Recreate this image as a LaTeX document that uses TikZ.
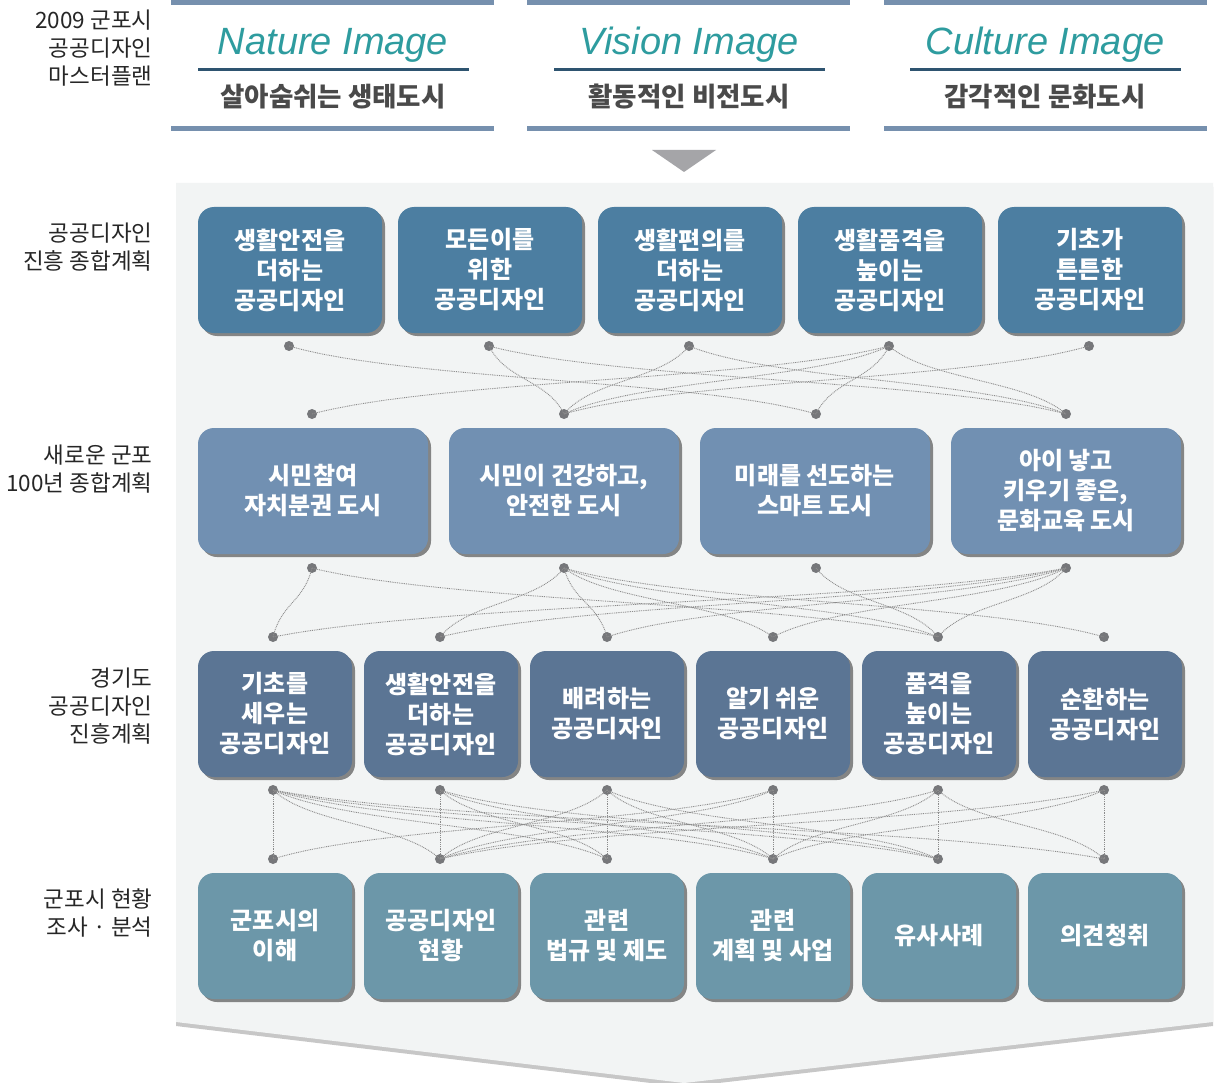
\documentclass[tikz,border=0pt]{standalone}
\usepackage{fontspec}
\setmainfont{Noto Sans CJK KR}
\newfontfamily\latinit{Liberation Sans}
\usetikzlibrary{shadows,calc}
\definecolor{barblue}{HTML}{7690AE}
\definecolor{linedark}{HTML}{2E5470}
\definecolor{teal}{HTML}{2E9C9F}
\definecolor{subgray}{HTML}{4A4A4A}
\definecolor{panel}{HTML}{F2F4F4}
\definecolor{rowa}{HTML}{4C7EA1}
\definecolor{rowb}{HTML}{7190B2}
\definecolor{rowc}{HTML}{5B7594}
\definecolor{rowd}{HTML}{6C97A9}
\definecolor{dotgray}{HTML}{76777A}
\definecolor{conngray}{HTML}{8C8C8C}
\definecolor{tri}{HTML}{A5A5A8}
\tikzset{
  bx/.style={rounded corners=16pt, minimum height=126pt, align=center, text=white,
    font=\fontsize{24}{30}\selectfont\bfseries, inner sep=0pt,
    drop shadow={shadow xshift=3pt, shadow yshift=-3pt, fill=black, opacity=0.45}},
  boxa/.style={bx, fill=rowa, minimum width=184pt},
  boxb/.style={bx, fill=rowb, minimum width=230pt},
  boxc/.style={bx, fill=rowc, minimum width=154pt},
  boxd/.style={bx, fill=rowd, minimum width=154pt},
  dot/.style={circle, fill=dotgray, minimum size=10pt, inner sep=0pt},
  conn/.style={draw=conngray, line width=0.9pt, dash pattern=on 0.9pt off 0.9pt},
  lbl/.style={anchor=east, align=right, text=black!85, font=\fontsize{22.5}{28}\selectfont},
  title/.style={text=teal, font=\latinit\fontsize{38}{40}\selectfont\itshape},
  sub/.style={text=subgray, font=\fontsize{26.5}{28}\selectfont\bfseries},
}
\newcommand\conn[2]{\draw[conn] let \p1=(#1.center), \p2=(#2.center) in
  (\p1) .. controls ({0.78*\x1+0.22*\x2},{0.5*\y1+0.5*\y2}) and ({0.22*\x1+0.78*\x2},{0.5*\y1+0.5*\y2}) .. (\p2);}
\newcommand\vconn[2]{\draw[conn] (#1.center) -- (#2.center);}
\begin{document}
\begin{tikzpicture}[x=1pt,y=-1pt]
\useasboundingbox (0,0) rectangle (1215,1083);
\fill[white] (0,0) rectangle (1215,1083);
% header
\foreach \xa/\xb/\la/\lb/\cx/\t/\s/\n in {171/494/198/469/333/Nature Image/살아숨쉬는 생태도시/a, 527/850/554/825/689/Vision Image/활동적인 비전도시/b, 884/1207/910/1181/1045/Culture Image/감각적인 문화도시/c}{
  \fill[barblue] (\xa,0) rectangle (\xb,5);
  \fill[barblue] (\xa,126) rectangle (\xb,131);
  \fill[linedark] (\la,68) rectangle (\lb,71);
  \node[title] (title\n) at (\cx,45) {\t};
  \node[sub] (sub\n) at (\cx,97) {\s};
}
\fill[tri] (652,150) -- (716,150) -- (684,172) -- cycle;
% panel
\fill[panel, drop shadow={shadow xshift=0pt, shadow yshift=-4pt, fill=black, opacity=0.22}]
  (176,183) -- (1213,183) -- (1213,1022) -- (684,1083) -- (176,1022) -- cycle;
% left labels
\node[lbl] (l0) at (156,48) {2009 군포시\\공공디자인\\마스터플랜};
\node[lbl] (l1) at (156,247) {공공디자인\\진흥 종합계획};
\node[lbl] (l2) at (156,469) {새로운 군포\\100년 종합계획};
\node[lbl] (l3) at (156,706) {경기도\\공공디자인\\진흥계획};
\node[lbl] (l4) at (156,913) {군포시 현황\\조사 · 분석};
% row 1
\node[boxa] (a1) at (290,270) {생활안전을\\더하는\\공공디자인};
\node[boxa] (a2) at (490,270) {모든이를\\위한\\공공디자인};
\node[boxa] (a3) at (690,270) {생활편의를\\더하는\\공공디자인};
\node[boxa] (a4) at (890,270) {생활품격을\\높이는\\공공디자인};
\node[boxa] (a5) at (1090,270) {기초가\\튼튼한\\공공디자인};
% row 2
\node[boxb] (b1) at (313,491) {시민참여\\자치분권 도시};
\node[boxb] (b2) at (564,491) {시민이 건강하고,\\안전한 도시};
\node[boxb] (b3) at (815,491) {미래를 선도하는\\스마트 도시};
\node[boxb] (b4) at (1066,491) {아이 낳고\\키우기 좋은,\\문화교육 도시};
% row 3
\node[boxc] (c1) at (275,714) {기초를\\세우는\\공공디자인};
\node[boxc] (c2) at (441,714) {생활안전을\\더하는\\공공디자인};
\node[boxc] (c3) at (607,714) {배려하는\\공공디자인};
\node[boxc] (c4) at (773,714) {알기 쉬운\\공공디자인};
\node[boxc] (c5) at (939,714) {품격을\\높이는\\공공디자인};
\node[boxc] (c6) at (1105,714) {순환하는\\공공디자인};
% row 4
\node[boxd] (d1) at (275,936) {군포시의\\이해};
\node[boxd] (d2) at (441,936) {공공디자인\\현황};
\node[boxd] (d3) at (607,936) {관련\\법규 및 제도};
\node[boxd] (d4) at (773,936) {관련\\계획 및 사업};
\node[boxd] (d5) at (939,936) {유사사례};
\node[boxd] (d6) at (1105,936) {의견청취};
% dots
\foreach \i/\x in {1/289,2/489,3/689,4/889,5/1089}{\node[dot] (t\i) at (\x,346) {};}
\foreach \i/\x in {1/312,2/564,3/816,4/1066}{\node[dot] (u\i) at (\x,414) {};}
\foreach \i/\x in {1/312,2/564,3/816,4/1066}{\node[dot] (p\i) at (\x,568) {};}
\foreach \i/\x in {1/273,2/440,3/607,4/773,5/938,6/1104}{\node[dot] (q\i) at (\x,637) {};}
\foreach \i/\x in {1/273,2/440,3/607,4/773,5/938,6/1104}{\node[dot] (r\i) at (\x,790) {};}
\foreach \i/\x in {1/273,2/440,3/607,4/773,5/938,6/1104}{\node[dot] (s\i) at (\x,859) {};}
% band 1
\conn{t1}{u3}
\conn{t2}{u2}
\conn{t2}{u4}
\conn{t3}{u2}
\conn{t3}{u4}
\conn{t4}{u2}
\conn{t4}{u3}
\conn{t4}{u4}
\conn{t5}{u2}
\conn{u1}{t4}
% band 2
\conn{p1}{q1}
\conn{p1}{q5}
\conn{p2}{q2}
\conn{p2}{q3}
\conn{p2}{q4}
\conn{p2}{q5}
\conn{p2}{q6}
\conn{p3}{q5}
\conn{p4}{q1}
\conn{p4}{q2}
\conn{p4}{q3}
\conn{p4}{q4}
\conn{p4}{q5}
% band 3
\foreach \i in {1,...,6}{\vconn{r\i}{s\i}}
\conn{r1}{s2}
\conn{r1}{s3}
\conn{r1}{s4}
\conn{r1}{s5}
\conn{r1}{s6}
\conn{r2}{s3}
\conn{r2}{s4}
\conn{r2}{s5}
\conn{r3}{s2}
\conn{r3}{s4}
\conn{r3}{s5}
\conn{r4}{s1}
\conn{r4}{s2}
\conn{r5}{s2}
\conn{r5}{s4}
\conn{r5}{s6}
\conn{r6}{s2}
\conn{r6}{s4}
\end{tikzpicture}
\end{document}
